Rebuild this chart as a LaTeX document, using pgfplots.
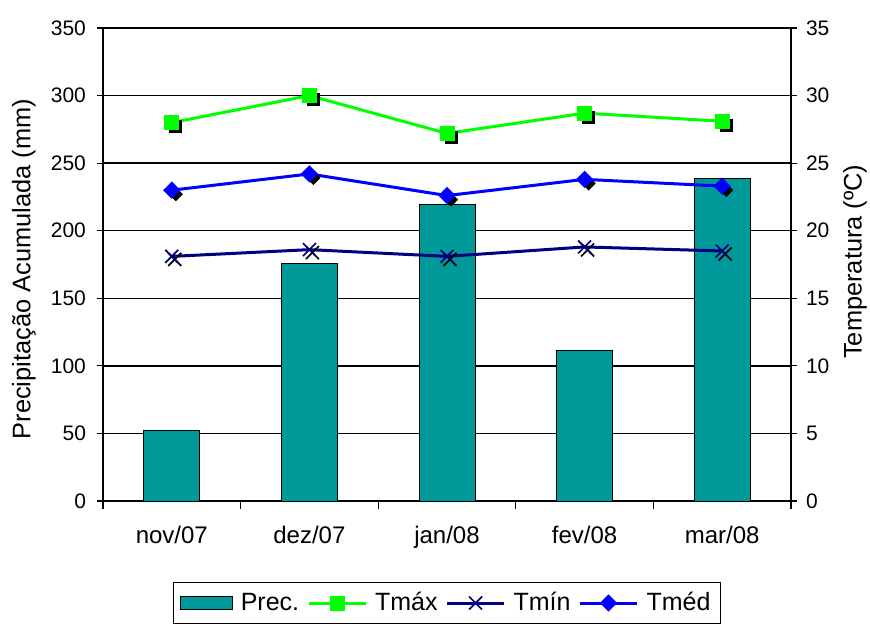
\documentclass[border=0pt]{standalone}
\usepackage{fontspec}
\setmainfont{Liberation Sans}
\usepackage{pgfplots}
\usepackage{pgfplotstable}
\pgfplotsset{compat=1.18}

\definecolor{precfill}{HTML}{009999}
\definecolor{tmaxcol}{HTML}{00FF00}
\definecolor{tmincol}{HTML}{000080}
\definecolor{tmedcol}{HTML}{0000FF}

% monthly precipitation (mm) and temperatures (degC)
\pgfplotstableread{
idx prec  tmax tmin tmed
0   52.5  28.0 18.1 23.0
1   175.5 30.0 18.6 24.2
2   219.5 27.2 18.1 22.6
3   111.5 28.7 18.8 23.8
4   239.0 28.1 18.5 23.3
}\climatable

\pgfplotsset{
  chartframe/.style={
    scale only axis, width=344pt, height=236.5pt,
    xmin=-0.5, xmax=4.5,
    /pgf/number format/assume math mode=true,
    tick align=outside,
    tick style={black, line width=0.6pt},
  },
  temp legend/.style={legend image code/.code={
    \draw[mark repeat=2, mark phase=2, ##1]
      plot coordinates {(0pt,0pt) (14.25pt,0pt) (28.5pt,0pt)};}},
}

\begin{document}
\begin{tikzpicture}
% left axis: precipitation bars
\begin{axis}[chartframe, name=main,
  ymin=0, ymax=350, ytick={0,50,...,350},
  axis x line*=bottom, axis y line*=left,
  axis line style={line width=1.1pt},
  ymajorgrids, grid style={black, line width=0.75pt},
  xtick={0,...,4},
  xticklabels={nov/07,dez/07,jan/08,fev/08,mar/08},
  major x tick style={draw=none},
  minor xtick={-0.5,0.5,...,4.5},
  minor tick length=4pt,
  major tick length=3pt,
  xticklabel style={font=\fontsize{12}{14}\selectfont, yshift=-6pt},
  yticklabel style={font=\fontsize{10.5}{12}\selectfont, xshift=-2pt},
  ylabel={Precipitação Acumulada (mm)},
  ylabel style={at={(axis description cs:-0.115,0.49)}, anchor=center, rotate=0,
    font=\fontsize{12.7}{15}\selectfont},
]
\addplot[ybar, bar width=28pt, fill=precfill, draw=black, line width=0.5pt]
  table[x=idx, y=prec]{\climatable};
\end{axis}

% right axis: temperatures
\begin{axis}[chartframe,
  ymin=0, ymax=35, ytick={0,5,...,35},
  axis x line=none, axis y line*=right,
  axis line style={line width=1.1pt},
  major tick length=3pt,
  yticklabel style={font=\fontsize{10.5}{12}\selectfont, xshift=1pt},
  ylabel={Temperatura (ºC)},
  ylabel style={at={(axis description cs:1.093,0.506)}, anchor=center, rotate=0,
    font=\fontsize{12.7}{15}\selectfont},
  legend columns=-1,
  legend style={at={(0.5,-0.172)}, anchor=north, draw=black, line width=0.7pt,
    outer sep=0pt,
    font=\fontsize{12.5}{15}\selectfont, inner xsep=3pt, inner ysep=3pt,
    /tikz/every odd column/.append style={column sep=2pt},
    /tikz/every even column/.append style={column sep=2pt}},
]
\addlegendimage{legend image code/.code={
  \draw[fill=precfill, draw=black, line width=0.6pt] (0pt,-3.25pt) rectangle (26pt,3.25pt);}}
\addlegendentry{Prec.}

% dropped shadows under the markers
\addplot[forget plot, only marks, mark=square*, mark size=3pt, black,
  mark options={xshift=2pt, yshift=-2pt}]
  table[x=idx, y=tmax]{\climatable};
\addplot[forget plot, only marks, mark=x, mark size=4.6pt, black,
  mark options={xshift=1.5pt, yshift=-1.5pt, line width=0.85pt}]
  table[x=idx, y=tmin]{\climatable};
\addplot[forget plot, only marks, mark=square*, mark size=2.3pt, black,
  mark options={xshift=2pt, yshift=-2pt, rotate=45}]
  table[x=idx, y=tmed]{\climatable};

\addplot[temp legend, tmaxcol, line width=1.5pt, mark=square*, mark size=3pt,
  mark options={solid}]
  table[x=idx, y=tmax]{\climatable};
\addlegendentry{Tmáx}
\addplot[temp legend, tmincol, line width=1.5pt, mark=x, mark size=4.6pt,
  mark options={line width=0.85pt}]
  table[x=idx, y=tmin]{\climatable};
\addlegendentry{Tmín}
\addplot[temp legend, tmedcol, line width=1.5pt, mark=square*, mark size=2.3pt,
  mark options={rotate=45}]
  table[x=idx, y=tmed]{\climatable};
\addlegendentry{Tméd}
\end{axis}

\pgfresetboundingbox
\path (main.south west) ++(-51.5pt,-63pt) rectangle ++(435pt,313.5pt);
\end{tikzpicture}
\end{document}
